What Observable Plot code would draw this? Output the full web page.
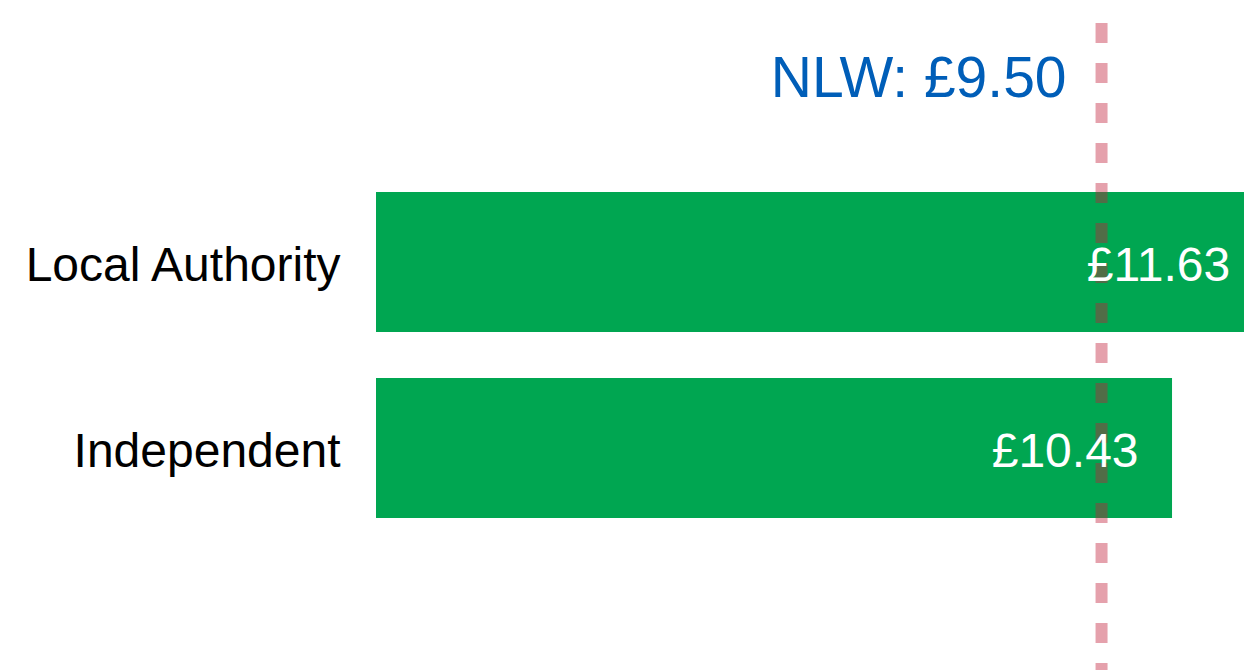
<!DOCTYPE html>
<html>
<head>
<meta charset="utf-8">
<script src="https://cdn.jsdelivr.net/npm/d3@7"></script>
<script src="https://cdn.jsdelivr.net/npm/@observablehq/plot@0.6"></script>
<style>
  html, body { margin: 0; padding: 0; background: white; overflow: hidden; }
</style>
</head>
<body>
<div id="chart"></div>
<script>
const categories = ["Local Authority", "Independent"];
const values = [11.63, 10.43];
const valueLabels = ["£11.63", "£10.43"];
const nlwValue = 9.50;
const nlwLabel = "NLW: £9.50";

const data = categories.map((c, i) => ({category: c, value: values[i], label: valueLabels[i]}));

const chart = Plot.plot({
  width: 1244,
  height: 670,
  marginLeft: 376,
  marginRight: 0,
  marginTop: 145,
  marginBottom: 105,
  x: {domain: [0, 11.373], axis: null},
  y: {domain: categories, padding: 0.246, axis: null},
  style: {fontFamily: "'Liberation Sans', Arial, sans-serif", background: "white", color: "black", overflow: "hidden"},
  marks: [
    Plot.barX(data, {x: "value", y: "category", fill: "#00A651", clip: true}),
    Plot.ruleX([nlwValue], {x: d => d, stroke: "#C0203A", strokeOpacity: 0.42, strokeWidth: 12, strokeDasharray: "20,20", insetTop: -122, insetBottom: -105}),
    Plot.text(data, {x: "value", y: "category", text: "label", textAnchor: "end", dx: -34, dy: 3, fill: "white", fontSize: 48}),
    Plot.text([nlwValue], {x: d => d, frameAnchor: "top", lineAnchor: "middle", text: () => nlwLabel, textAnchor: "end", dx: -35, dy: -67, fill: "#005EB8", fontSize: 57}),
    Plot.axisY({tickSize: 0, tickPadding: 36, fontSize: 48, label: null, dy: 3})
  ]
});
document.getElementById("chart").appendChild(chart);
</script>
</body>
</html>
